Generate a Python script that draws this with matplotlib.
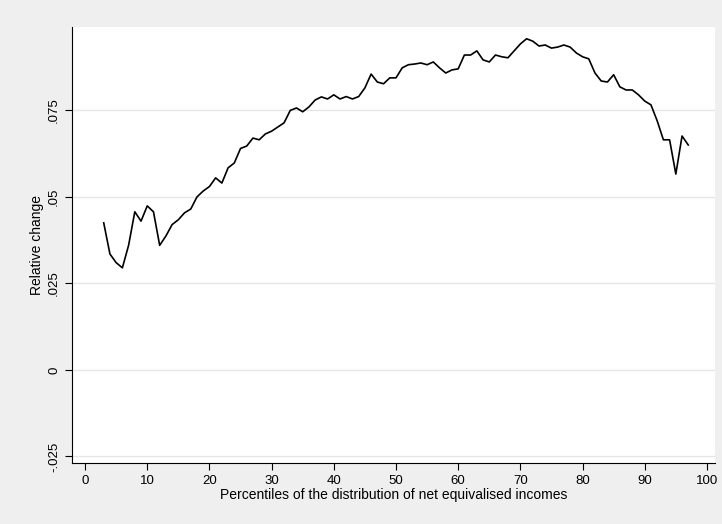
import numpy as np
import matplotlib.pyplot as plt

plt.rcParams['font.family'] = ['Liberation Sans', 'DejaVu Sans']

pct = np.arange(3, 98)
rel_change = [
    .0425, .0335, .031, .0295, .036, .0457, .043, .0474, .0457, .036,
    .0387, .042, .0434, .0454, .0465, .050, .0517, .053, .0555, .054,
    .0584, .0598, .064, .0647, .067, .0665, .0682, .069, .0702, .0714,
    .075, .0757, .0746, .076, .078, .0789, .0783, .0795, .0783, .079,
    .0783, .079, .0815, .0855, .0832, .0827, .0844, .0844, .0873, .0882,
    .0884, .0887, .0882, .089, .0873, .0858, .0867, .087, .091, .091,
    .0922, .0896, .089, .091, .0905, .0902, .0922, .0942, .0957, .095,
    .0936, .0939, .093, .0933, .0939, .0933, .0916, .0905, .0899, .0858,
    .0835, .0832, .0853, .0818, .0809, .0809, .0795, .0777, .0766, .072,
    .0665, .0665, .0566, .0676, .065,
]
xticks = np.arange(0, 101, 10)
yticks = [-0.025, 0, 0.025, 0.05, 0.075]
ylabels = ['-.025', '0', '.025', '.05', '.075']

fig = plt.figure(figsize=(7.22, 5.24), dpi=100, facecolor='#efefef')
ax = fig.add_axes([72/722, 1-463/524, (715-72)/722, (463-27)/524])
ax.set_facecolor('white')
ax.plot(pct, rel_change, color='black', lw=1.2)
ax.set_xlim(-2.1, 101.3)
ax.set_ylim(-0.0269, 0.0991)
ax.set_xticks(xticks)
ax.set_yticks(yticks)
ax.set_yticklabels(ylabels, rotation=90, va='center')
ax.grid(axis='y', color='#e6e6e6', lw=1)
ax.set_axisbelow(True)
for s in ['top', 'right']:
    ax.spines[s].set_visible(False)
ax.tick_params(labelsize=9.5, length=5)
ax.set_xlabel('Percentiles of the distribution of net equivalised incomes', fontsize=10, labelpad=1)
ax.set_ylabel('Relative change', fontsize=10, labelpad=3)
fig.savefig('out.png', dpi=100, facecolor=fig.get_facecolor())
